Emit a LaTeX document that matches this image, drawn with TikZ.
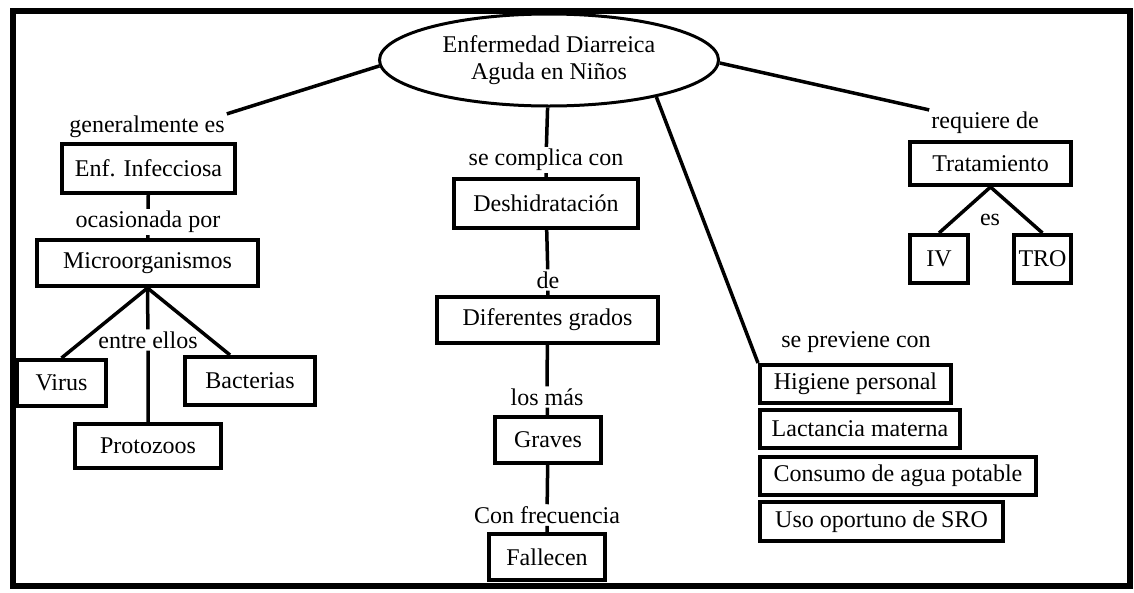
\documentclass[tikz,border=0pt]{standalone}
\usepackage{fontspec}
\setmainfont{Liberation Serif}
\usetikzlibrary{shapes.geometric}
\begin{document}
\begin{tikzpicture}[x=1pt,y=-1pt,
    every node/.style={font=\fontsize{24}{27}\selectfont},
    caja/.style={draw,line width=4pt,inner sep=0pt,minimum height=46pt},
    etiqueta/.style={inner sep=2pt},
    enlace/.style={line width=3.5pt}]
    \useasboundingbox (0,0) rectangle (1134,592);
    \draw[line width=6pt] (12.5,10.5) rectangle (1129.5,586);
    % concepto central
    \node[draw,ellipse,line width=3pt,minimum width=339pt,minimum height=92pt,inner sep=0pt,align=center] (eda) at (549,60) {Enfermedad Diarreica\\Aguda en Niños};
    % rama izquierda
    \node[etiqueta] (gen) at (147,127) {generalmente es};
    \node[caja,minimum width=173pt,minimum height=49pt] (infec) at (148.5,168.5) {Enf. Infecciosa};
    \node[etiqueta] (ocas) at (148,222) {ocasionada por};
    \node[caja,minimum width=221pt] (micro) at (147.5,263) {Microorganismos};
    \node[etiqueta] (entre) at (148,340) {entre ellos};
    \node[caja,minimum width=89pt] (virus) at (61.5,383) {Virus};
    \node[caja,minimum width=130pt,minimum height=48pt] (bact) at (250,381) {Bacterias};
    \node[caja,minimum width=146pt,minimum height=44pt] (proto) at (148,446) {Protozoos};
    % rama central
    \node[etiqueta] (secomp) at (546,160) {se complica con};
    \node[caja,minimum width=184pt,minimum height=49pt] (desh) at (546,203.5) {Deshidratación};
    \node[etiqueta] (de) at (548,280) {de};
    \node[caja,minimum width=221pt] (difer) at (547.5,320) {Diferentes grados};
    \node[etiqueta] (losmas) at (547,397) {los más};
    \node[caja,minimum width=106pt] (graves) at (548,440) {Graves};
    \node[etiqueta] (confrec) at (547,515) {Con frecuencia};
    \node[caja,minimum width=116pt] (fallec) at (547,557) {Fallecen};
    % tratamiento
    \node[etiqueta] (req) at (985,123) {requiere de};
    \node[caja,minimum width=161pt,minimum height=43pt] (trat) at (990.5,163.5) {Tratamiento};
    \node[etiqueta] (es) at (990,220) {es};
    \node[caja,minimum width=58pt,minimum height=48pt] (iv) at (939,259) {IV};
    \node[caja,minimum width=57pt,minimum height=48pt] (tro) at (1042.5,259) {TRO};
    % prevencion
    \node[etiqueta] (seprev) at (856,342) {se previene con};
    \node[caja,minimum width=191pt,minimum height=38pt] (hig) at (855.5,384) {Higiene personal};
    \node[caja,minimum width=200pt,minimum height=38pt] (lact) at (860,429) {Lactancia materna};
    \node[caja,minimum width=276pt,minimum height=38pt] (cons) at (898,476) {Consumo de agua potable};
    \node[caja,minimum width=243pt,minimum height=39pt] (uso) at (881.5,521.5) {Uso oportuno de SRO};
    % enlaces
    \draw[enlace] (eda.182) -- (gen.north east);
    \draw[enlace] (infec) -- (ocas) -- (micro);
    \draw[enlace] (micro.south) -- (virus.north);
    \draw[enlace] (micro.south) -- ([xshift=-20pt]bact.north);
    \draw[enlace] (micro.south) -- (entre) -- (proto);
    \draw[enlace] (eda) -- (secomp) -- (desh) -- (de) -- (difer) -- (losmas) -- (graves) -- (confrec) -- (fallec);
    \draw[enlace] (eda.-1) -- (req.north west);
    \draw[enlace] (trat.south) -- (iv.north);
    \draw[enlace] (trat.south) -- (tro.north);
    \draw[enlace] (eda.-19) -- (hig.north west);
\end{tikzpicture}
\end{document}
